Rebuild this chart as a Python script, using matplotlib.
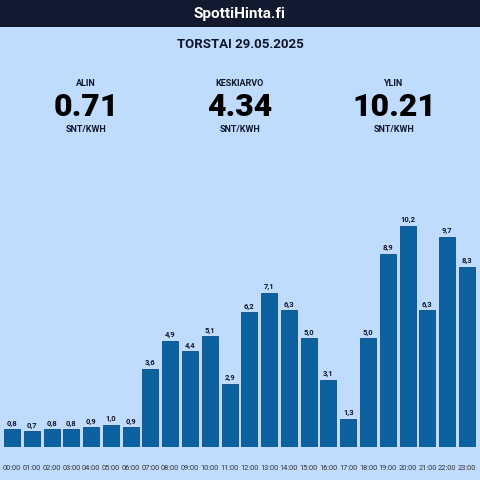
import matplotlib
matplotlib.use("Agg")
import matplotlib.pyplot as plt

hours = ["00:00","01:00","02:00","03:00","04:00","05:00","06:00","07:00","08:00","09:00","10:00","11:00",
         "12:00","13:00","14:00","15:00","16:00","17:00","18:00","19:00","20:00","21:00","22:00","23:00"]
prices = [0.8,0.71,0.8,0.8,0.9,1.0,0.9,3.6,4.9,4.4,5.1,2.9,6.2,7.1,6.3,5.0,3.1,1.3,5.0,8.9,10.21,6.3,9.7,8.3]
stat_labels = ["ALIN", "KESKIARVO", "YLIN"]
stat_values = ["0.71", "4.34", "10.21"]
unit = "SNT/KWH"
title = "SpottiHinta.fi"
date_text = "TORSTAI 29.05.2025"

BG = "#bfdbfe"
HEADER = "#111a2e"
BAR = "#0c62a0"
TXT = "#0f172a"

plt.rcParams['font.family'] = ['Roboto', 'DejaVu Sans']

fig = plt.figure(figsize=(4.8, 4.8), dpi=100)
fig.patch.set_facecolor(BG)

def fy(px):
    return 1 - px / 480.0

# header bar
hdr = fig.add_axes([0, fy(27), 1, 27/480])
hdr.set_facecolor(HEADER)
hdr.set_xticks([]); hdr.set_yticks([])
for s in hdr.spines.values():
    s.set_visible(False)
fig.text(0.5, fy(14), title, color="white", fontsize=11, fontweight="bold", ha="center", va="center")
fig.text(0.5, fy(44), date_text, color=TXT, fontsize=9.5, fontweight="bold", ha="center", va="center")

cols = [86/480, 240/480, 394/480]
for cx, lab, val in zip(cols, stat_labels, stat_values):
    fig.text(cx, fy(84), lab, color=TXT, fontsize=6.5, fontweight="bold", ha="center", va="center")
    fig.text(cx, fy(107), val, color="black", fontsize=23, fontweight="black", ha="center", va="center")
    fig.text(cx, fy(129), unit, color=TXT, fontsize=6.5, fontweight="bold", ha="center", va="center")

# chart axes
base_px = 446.7
top_px = 140.0
scale = 21.65  # px per unit
ax = fig.add_axes([0, fy(base_px), 1, (base_px - top_px)/480])
ax.set_facecolor("none")
x = list(range(len(hours)))
ax.bar(x, prices, width=0.81, color=BAR, edgecolor="#0b4f85", linewidth=0.6)
ax.set_xlim(-0.607, 23.66)
ax.set_ylim(0, (base_px - top_px)/scale)
for xi, v in zip(x, prices):
    ax.text(xi, v + 0.12, f"{v:.1f}".replace(".", ","), ha="center", va="bottom",
            fontsize=5.5, fontweight="bold", color=TXT)
ax.set_xticks(x)
ax.set_xticklabels(hours, fontsize=5.3, color="#333333")
ax.tick_params(axis="x", length=0, pad=13.5)
ax.set_yticks([])
for s in ax.spines.values():
    s.set_visible(False)

fig.savefig("out.png", dpi=100, facecolor=BG)
